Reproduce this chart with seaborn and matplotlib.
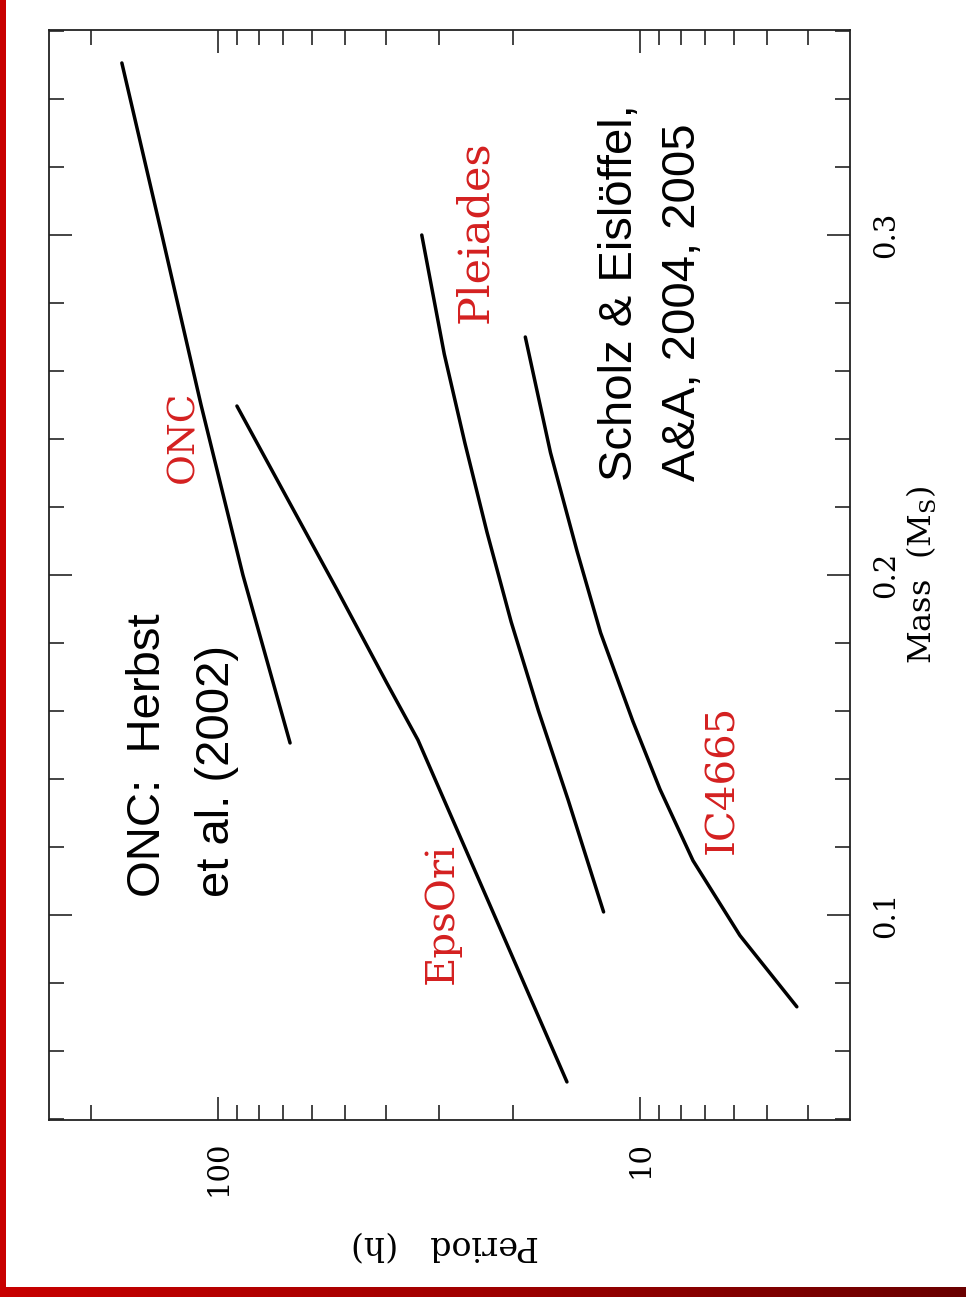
import numpy as np
import pandas as pd
import matplotlib
matplotlib.use("Agg")
import matplotlib.pyplot as plt
import seaborn as sns
from matplotlib.ticker import LogLocator, NullFormatter, MultipleLocator, FixedLocator, FixedFormatter
from matplotlib.patches import Rectangle
from matplotlib.colors import LinearSegmentedColormap

# ---- data ----
onc_mass = [0.1506, 0.20, 0.25, 0.30, 0.3506]
onc_period = [67.5, 87.3, 109.7, 135.8, 169.0]
epsori_mass = [0.0509, 0.1041, 0.1515, 0.1682, 0.1956, 0.2226, 0.2497]
epsori_period = [14.9, 22.9, 33.6, 39.8, 52.2, 68.6, 90.2]
pleiades_mass = [0.1009, 0.1338, 0.160, 0.1862, 0.2126, 0.2388, 0.265, 0.300]
pleiades_period = [12.2, 14.8, 17.4, 20.2, 23.05, 26.0, 29.1, 32.9]
ic4665_mass = [0.073, 0.094, 0.116, 0.137, 0.157, 0.183, 0.207, 0.236, 0.270]
ic4665_period = [4.25, 5.80, 7.49, 8.97, 10.4, 12.4, 14.1, 16.3, 18.7]

clusters = ["ONC", "EpsOri", "Pleiades", "IC4665"]
period_ticks = [10, 100]
period_ticklabels = ["10", "100"]
mass_ticks = [0.1, 0.2, 0.3]
mass_ticklabels = ["0.1", "0.2", "0.3"]

frames = []
for name, m, p in zip(clusters,
                      [onc_mass, epsori_mass, pleiades_mass, ic4665_mass],
                      [onc_period, epsori_period, pleiades_period, ic4665_period]):
    frames.append(pd.DataFrame({"cluster": name, "mass": m, "period": p}))
df = pd.concat(frames, ignore_index=True)

sns.set_style("ticks")
plt.rcParams["font.family"] = ["DejaVu Serif"]
plt.rcParams["mathtext.fontset"] = "dejavuserif"
plt.rcParams["text.color"] = "black"
plt.rcParams["axes.labelcolor"] = "black"
plt.rcParams["xtick.color"] = "black"
plt.rcParams["ytick.color"] = "black"

W, H = 966, 1297
fig = plt.figure(figsize=(W / 100, H / 100), dpi=100)
fig.patch.set_facecolor("white")

L, R, T, B = 49, 850, 30, 1120
ax = fig.add_axes([L / W, 1 - B / H, (R - L) / W, (B - T) / H])

sns.lineplot(data=df, x="period", y="mass", hue="cluster", units="cluster",
             estimator=None, sort=False, palette=["black"] * 4, legend=False,
             linewidth=2.5, ax=ax)

ax.set_xscale("log")
ax.set_xlim(251.5, 3.18)
ax.set_ylim(0.0397, 0.3603)

ax.xaxis.set_major_locator(FixedLocator(period_ticks))
ax.xaxis.set_major_formatter(FixedFormatter(period_ticklabels))
ax.xaxis.set_minor_locator(LogLocator(base=10, subs=np.arange(2, 10), numticks=30))
ax.xaxis.set_minor_formatter(NullFormatter())
ax.yaxis.set_major_locator(FixedLocator(mass_ticks))
ax.yaxis.set_major_formatter(FixedFormatter(mass_ticklabels))
ax.yaxis.set_minor_locator(MultipleLocator(0.02))

ax.tick_params(which="both", direction="in", top=True, bottom=True, left=True, right=True,
               labelleft=False, labelright=True, labelbottom=True, labeltop=False,
               color="#111111", width=1.1)
ax.tick_params(which="major", length=16.5)
ax.tick_params(which="minor", length=10.5)
ax.tick_params(axis="x", which="major", labelrotation=90, labelsize=21, pad=15, labelcolor="black")
ax.tick_params(axis="y", which="major", labelrotation=90, labelsize=21, pad=16, labelcolor="black")
for lab in ax.get_yticklabels():
    lab.set_verticalalignment("center")

for s in ax.spines.values():
    s.set_color("#222222")
    s.set_linewidth(1.3)

ax.set_xlabel("Period   (h)", fontsize=24, rotation=180, color="black")
ax.xaxis.label.set_va("center")
ax.xaxis.set_label_coords((445 - L) / (R - L), (B - 1245) / (B - T))
ax.set_ylabel("Mass  (M$_{\\rm S}$)", fontsize=23, rotation=90, color="black")
ax.yaxis.set_label_position("right")
ax.yaxis.label.set_va("center")
ax.yaxis.label.set_ha("center")
ax.yaxis.set_label_coords((922 - L) / (R - L), (B - 575) / (B - T))

def px(x, y):
    return x / W, 1 - y / H

red = "#d42020"
for txt, bx, cy, fs in [("ONC", 193, 437, 27), ("EpsOri", 453, 914, 29),
                        ("Pleiades", 487, 232, 31), ("IC4665", 733, 779, 29)]:
    fig.text(*px(bx, cy), txt, color=red, fontsize=fs, family="DejaVu Serif",
             rotation=90, rotation_mode="anchor", ha="center", va="baseline")

for txt, bx, sy in [("ONC:  Herbst", 160, 897), ("et al. (2002)", 229, 897),
                    ("Scholz & Eislöffel,", 632, 481), ("A&A, 2004, 2005", 695, 481)]:
    fig.text(*px(bx, sy), txt, color="black", fontsize=34,
             family=["Liberation Sans", "DejaVu Sans"],
             rotation=90, rotation_mode="anchor", ha="left", va="baseline")

# red frame decoration
fig.patches.append(Rectangle((0, 0), 6 / W, 1, transform=fig.transFigure,
                             facecolor="#c80000", edgecolor="none", zorder=10))
gax = fig.add_axes([0, 0, 1, 10 / H])
grad = np.linspace(0, 1, 256).reshape(1, -1)
cmap = LinearSegmentedColormap.from_list("rb", ["#c80000", "#a00000", "#6a0000"])
gax.imshow(grad, aspect="auto", cmap=cmap, extent=[0, 1, 0, 1])
gax.set_axis_off()

fig.savefig("out.png", dpi=100, facecolor="white")
